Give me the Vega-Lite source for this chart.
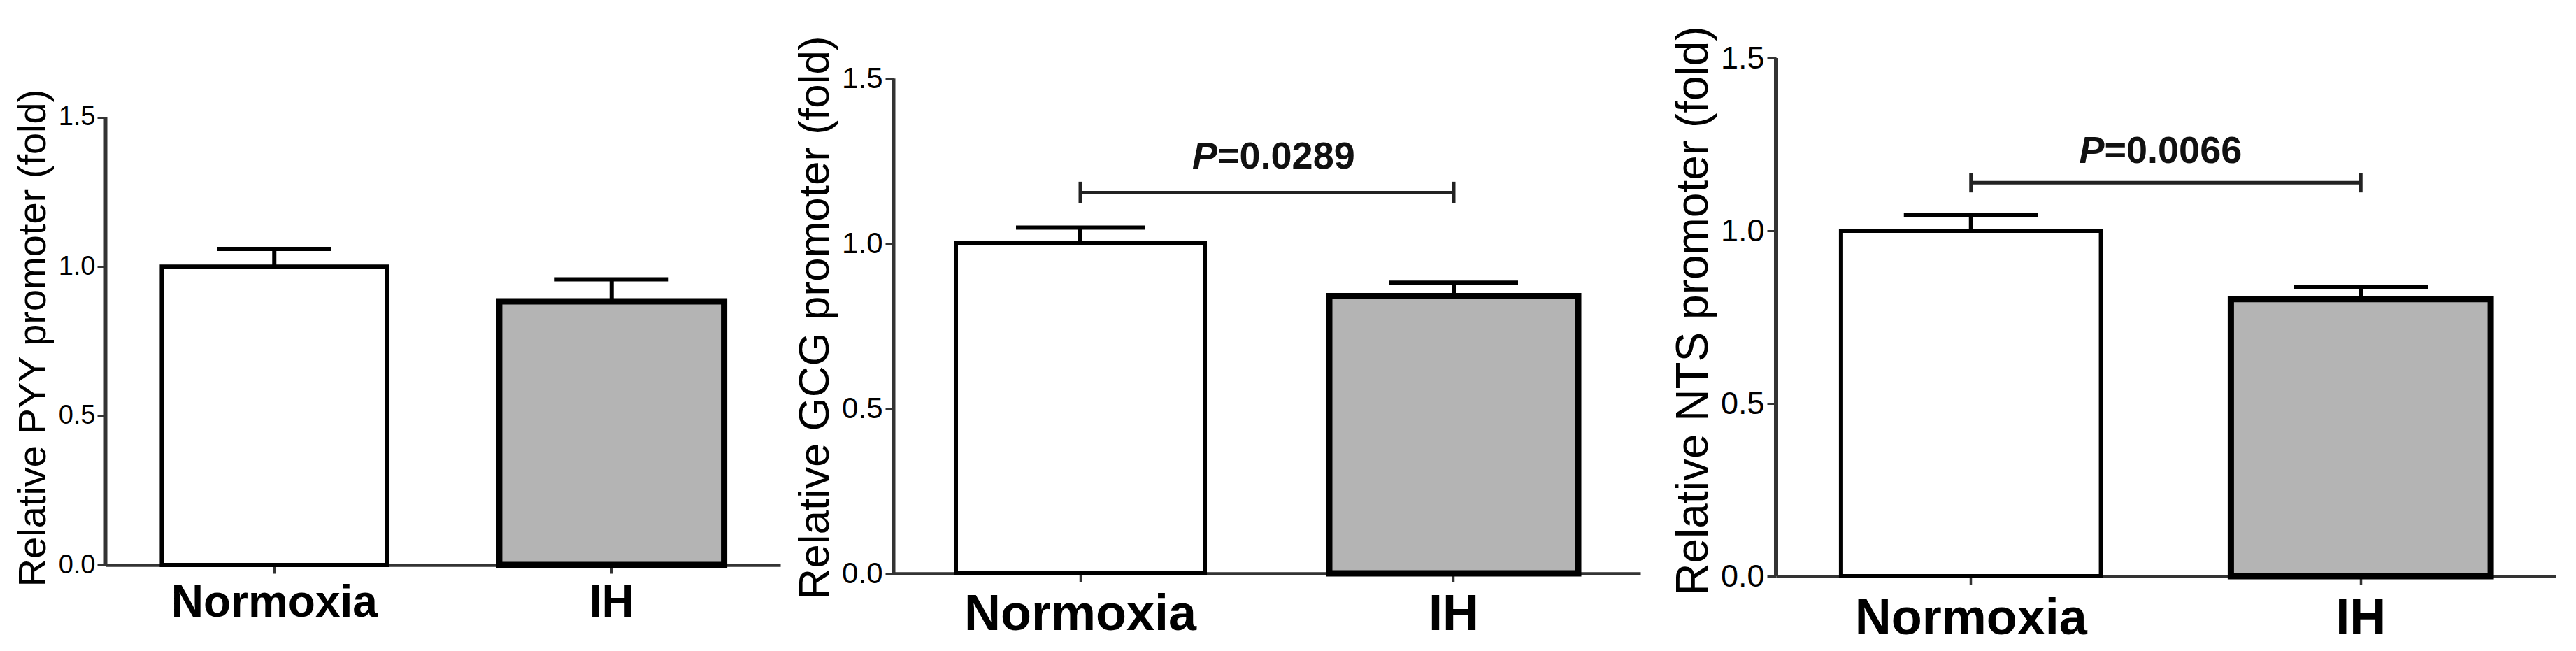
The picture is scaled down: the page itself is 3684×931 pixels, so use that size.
{
  "$schema": "https://vega.github.io/schema/vega-lite/v6.json",
  "background": "white",
  "padding": {"left": 19, "top": 36, "right": 5, "bottom": 5},
  "config": {
    "view": {"stroke": null},
    "font": "Liberation Sans",
    "axis": {"grid": false, "labelFont": "Liberation Sans", "titleFont": "Liberation Sans", "labelColor": "#000000", "titleColor": "#000000", "domainColor": "#333333", "tickColor": "#333333", "labelFlush": false, "labelOverlap": false, "labelLimit": 1000, "titleLimit": 2000}
  },
  "datasets": {
    "bars": [
      {"panel": "PYY", "group": "Normoxia", "mean": 1.0, "upper": 1.059},
      {"panel": "PYY", "group": "IH", "mean": 0.883, "upper": 0.957},
      {"panel": "GCG", "group": "Normoxia", "mean": 1.0, "upper": 1.048},
      {"panel": "GCG", "group": "IH", "mean": 0.84, "upper": 0.881},
      {"panel": "NTS", "group": "Normoxia", "mean": 1.0, "upper": 1.045},
      {"panel": "NTS", "group": "IH", "mean": 0.802, "upper": 0.838}
    ],
    "frame": [
      {"panel": "PYY", "group": "Normoxia", "lo": 0, "hi": 1.5},
      {"panel": "GCG", "group": "Normoxia", "lo": 0, "hi": 1.5},
      {"panel": "NTS", "group": "Normoxia", "lo": 0, "hi": 1.5}
    ],
    "sig": [
      {"panel": "GCG", "left": "Normoxia", "right": "IH", "y": 1.154, "lo": 1.121, "hi": 1.187, "ty": 1.226, "p": "P", "rest": "=0.0289"},
      {"panel": "NTS", "left": "Normoxia", "right": "IH", "y": 1.139, "lo": 1.111, "hi": 1.168, "ty": 1.197, "p": "P", "rest": "=0.0066"}
    ]
  },
  "bounds": "flush",
  "spacing": 162,
  "hconcat": [
    {
      "width": 965,
      "height": 725,
      "layer": [
        {
          "data": {"name": "bars"},
          "transform": [{"filter": "datum.panel === 'PYY' && datum.group === 'Normoxia'"}],
          "mark": {"type": "bar", "fill": "#ffffff", "stroke": "#000000", "strokeWidth": 6},
          "encoding": {
            "x": {"field": "group", "type": "nominal", "scale": {"domain": ["Normoxia", "IH"], "paddingInner": 0.3333, "paddingOuter": 0.16667},
                  "axis": {"title": null, "labelAngle": 0, "labelFontSize": 64, "labelFontWeight": "bold", "labelPadding": 10, "tickSize": 12, "tickWidth": 3.5, "domainWidth": 4.5}},
            "y": {"field": "mean", "type": "quantitative", "scale": {"domain": [0, 1.6984], "nice": false, "zero": true},
                  "axis": {"title": "Relative PYY promoter (fold)", "values": [0, 0.5, 1, 1.5], "format": ".1f", "domain": false, "tickSize": 12, "tickWidth": 3, "labelFontSize": 38, "labelPadding": 3, "minExtent": 68, "maxExtent": 68, "titlePadding": 7, "titleFontSize": 56, "titleFontWeight": "normal", "titleY": 400}}
          }
        },
        {
          "data": {"name": "bars"},
          "transform": [{"filter": "datum.panel === 'PYY' && datum.group === 'IH'"}],
          "mark": {"type": "bar", "fill": "#b4b4b4", "stroke": "#000000", "strokeWidth": 9},
          "encoding": {
            "x": {"field": "group", "type": "nominal"},
            "y": {"field": "mean", "type": "quantitative"}
          }
        },
        {
          "data": {"name": "bars"},
          "transform": [{"filter": "datum.panel === 'PYY'"}],
          "mark": {"type": "rule", "color": "#000000", "strokeWidth": 6},
          "encoding": {
            "x": {"field": "group", "type": "nominal"},
            "y": {"field": "mean", "type": "quantitative"},
            "y2": {"field": "upper"}
          }
        },
        {
          "data": {"name": "bars"},
          "transform": [{"filter": "datum.panel === 'PYY'"}],
          "mark": {"type": "tick", "color": "#000000", "size": 163, "thickness": 6, "orient": "horizontal", "opacity": 1},
          "encoding": {
            "x": {"field": "group", "type": "nominal"},
            "y": {"field": "upper", "type": "quantitative"}
          }
        },
        {
          "data": {"name": "frame"},
          "transform": [{"filter": "datum.panel === 'PYY'"}],
          "mark": {"type": "rule", "color": "#333333", "strokeWidth": 5},
          "encoding": {
            "x": {"field": "group", "type": "nominal", "bandPosition": -0.25},
            "y": {"field": "lo", "type": "quantitative"},
            "y2": {"field": "hi"}
          }
        }
      ]
    },
    {
      "bounds": "flush",
      "spacing": 194,
      "hconcat": [
        {
          "width": 1068,
          "height": 737,
          "layer": [
            {
              "data": {"name": "bars"},
              "transform": [{"filter": "datum.panel === 'GCG' && datum.group === 'Normoxia'"}],
              "mark": {"type": "bar", "fill": "#ffffff", "stroke": "#000000", "strokeWidth": 6},
              "encoding": {
                "x": {"field": "group", "type": "nominal", "scale": {"domain": ["Normoxia", "IH"], "paddingInner": 0.3333, "paddingOuter": 0.16667},
                      "axis": {"title": null, "labelAngle": 0, "labelFontSize": 72, "labelFontWeight": "bold", "labelPadding": 11, "tickSize": 12, "tickWidth": 3.5, "domainWidth": 4.5}},
                "y": {"field": "mean", "type": "quantitative", "scale": {"domain": [0, 1.5618], "nice": false, "zero": true},
                      "axis": {"title": "Relative GCG promoter (fold)", "values": [0, 0.5, 1, 1.5], "format": ".1f", "domain": false, "tickSize": 12, "tickWidth": 3, "labelFontSize": 42, "labelPadding": 4, "minExtent": 74, "maxExtent": 74, "titlePadding": 7, "titleFontSize": 62, "titleFontWeight": "normal", "titleY": 371}}
              }
            },
            {
              "data": {"name": "bars"},
              "transform": [{"filter": "datum.panel === 'GCG' && datum.group === 'IH'"}],
              "mark": {"type": "bar", "fill": "#b4b4b4", "stroke": "#000000", "strokeWidth": 9},
              "encoding": {
                "x": {"field": "group", "type": "nominal"},
                "y": {"field": "mean", "type": "quantitative"}
              }
            },
            {
              "data": {"name": "bars"},
              "transform": [{"filter": "datum.panel === 'GCG'"}],
              "mark": {"type": "rule", "color": "#000000", "strokeWidth": 6},
              "encoding": {
                "x": {"field": "group", "type": "nominal"},
                "y": {"field": "mean", "type": "quantitative"},
                "y2": {"field": "upper"}
              }
            },
            {
              "data": {"name": "bars"},
              "transform": [{"filter": "datum.panel === 'GCG'"}],
              "mark": {"type": "tick", "color": "#000000", "size": 184, "thickness": 6, "orient": "horizontal", "opacity": 1},
              "encoding": {
                "x": {"field": "group", "type": "nominal"},
                "y": {"field": "upper", "type": "quantitative"}
              }
            },
            {
              "data": {"name": "frame"},
              "transform": [{"filter": "datum.panel === 'GCG'"}],
              "mark": {"type": "rule", "color": "#333333", "strokeWidth": 5},
              "encoding": {
                "x": {"field": "group", "type": "nominal", "bandPosition": -0.25},
                "y": {"field": "lo", "type": "quantitative"},
                "y2": {"field": "hi"}
              }
            },
            {
              "data": {"name": "sig"},
              "transform": [{"filter": "datum.panel === 'GCG'"}],
              "mark": {"type": "rule", "color": "#222222", "strokeWidth": 5},
              "encoding": {
                "x": {"field": "left", "type": "nominal"},
                "x2": {"field": "right"},
                "y": {"field": "y", "type": "quantitative"}
              }
            },
            {
              "data": {"name": "sig"},
              "transform": [{"filter": "datum.panel === 'GCG'"}],
              "mark": {"type": "rule", "color": "#222222", "strokeWidth": 5},
              "encoding": {
                "x": {"field": "left", "type": "nominal"},
                "y": {"field": "lo", "type": "quantitative"},
                "y2": {"field": "hi"}
              }
            },
            {
              "data": {"name": "sig"},
              "transform": [{"filter": "datum.panel === 'GCG'"}],
              "mark": {"type": "rule", "color": "#222222", "strokeWidth": 5},
              "encoding": {
                "x": {"field": "right", "type": "nominal"},
                "y": {"field": "lo", "type": "quantitative"},
                "y2": {"field": "hi"}
              }
            },
            {
              "data": {"name": "sig"},
              "transform": [{"filter": "datum.panel === 'GCG'"}],
              "mark": {"type": "text", "font": "Liberation Sans", "fontSize": 54, "fontWeight": "bold", "fontStyle": "italic", "align": "right", "baseline": "alphabetic", "dx": -71, "color": "#111111"},
              "encoding": {
                "x": {"field": "left", "type": "nominal", "bandPosition": 1.25},
                "y": {"field": "ty", "type": "quantitative"},
                "text": {"field": "p"}
              }
            },
            {
              "data": {"name": "sig"},
              "transform": [{"filter": "datum.panel === 'GCG'"}],
              "mark": {"type": "text", "font": "Liberation Sans", "fontSize": 54, "fontWeight": "bold", "align": "left", "baseline": "alphabetic", "dx": -71, "color": "#111111"},
              "encoding": {
                "x": {"field": "left", "type": "nominal", "bandPosition": 1.25},
                "y": {"field": "ty", "type": "quantitative"},
                "text": {"field": "rest"}
              }
            }
          ]
        },
        {
          "width": 1115,
          "height": 741,
          "layer": [
            {
              "data": {"name": "bars"},
              "transform": [{"filter": "datum.panel === 'NTS' && datum.group === 'Normoxia'"}],
              "mark": {"type": "bar", "fill": "#ffffff", "stroke": "#000000", "strokeWidth": 6},
              "encoding": {
                "x": {"field": "group", "type": "nominal", "scale": {"domain": ["Normoxia", "IH"], "paddingInner": 0.3333, "paddingOuter": 0.16667},
                      "axis": {"title": null, "labelAngle": 0, "labelFontSize": 72, "labelFontWeight": "bold", "labelPadding": 13, "tickSize": 12, "tickWidth": 3.5, "domainWidth": 4.5}},
                "y": {"field": "mean", "type": "quantitative", "scale": {"domain": [0, 1.5], "nice": false, "zero": true},
                      "axis": {"title": "Relative NTS promoter (fold)", "values": [0, 0.5, 1, 1.5], "format": ".1f", "domain": false, "tickSize": 13, "tickWidth": 3, "labelFontSize": 45, "labelPadding": 4, "minExtent": 78, "maxExtent": 78, "titlePadding": 8, "titleFontSize": 64, "titleFontWeight": "normal", "titleY": 361}}
              }
            },
            {
              "data": {"name": "bars"},
              "transform": [{"filter": "datum.panel === 'NTS' && datum.group === 'IH'"}],
              "mark": {"type": "bar", "fill": "#b4b4b4", "stroke": "#000000", "strokeWidth": 9},
              "encoding": {
                "x": {"field": "group", "type": "nominal"},
                "y": {"field": "mean", "type": "quantitative"}
              }
            },
            {
              "data": {"name": "bars"},
              "transform": [{"filter": "datum.panel === 'NTS'"}],
              "mark": {"type": "rule", "color": "#000000", "strokeWidth": 6},
              "encoding": {
                "x": {"field": "group", "type": "nominal"},
                "y": {"field": "mean", "type": "quantitative"},
                "y2": {"field": "upper"}
              }
            },
            {
              "data": {"name": "bars"},
              "transform": [{"filter": "datum.panel === 'NTS'"}],
              "mark": {"type": "tick", "color": "#000000", "size": 192, "thickness": 6, "orient": "horizontal", "opacity": 1},
              "encoding": {
                "x": {"field": "group", "type": "nominal"},
                "y": {"field": "upper", "type": "quantitative"}
              }
            },
            {
              "data": {"name": "frame"},
              "transform": [{"filter": "datum.panel === 'NTS'"}],
              "mark": {"type": "rule", "color": "#333333", "strokeWidth": 6},
              "encoding": {
                "x": {"field": "group", "type": "nominal", "bandPosition": -0.25},
                "y": {"field": "lo", "type": "quantitative"},
                "y2": {"field": "hi"}
              }
            },
            {
              "data": {"name": "sig"},
              "transform": [{"filter": "datum.panel === 'NTS'"}],
              "mark": {"type": "rule", "color": "#222222", "strokeWidth": 5},
              "encoding": {
                "x": {"field": "left", "type": "nominal"},
                "x2": {"field": "right"},
                "y": {"field": "y", "type": "quantitative"}
              }
            },
            {
              "data": {"name": "sig"},
              "transform": [{"filter": "datum.panel === 'NTS'"}],
              "mark": {"type": "rule", "color": "#222222", "strokeWidth": 5},
              "encoding": {
                "x": {"field": "left", "type": "nominal"},
                "y": {"field": "lo", "type": "quantitative"},
                "y2": {"field": "hi"}
              }
            },
            {
              "data": {"name": "sig"},
              "transform": [{"filter": "datum.panel === 'NTS'"}],
              "mark": {"type": "rule", "color": "#222222", "strokeWidth": 5},
              "encoding": {
                "x": {"field": "right", "type": "nominal"},
                "y": {"field": "lo", "type": "quantitative"},
                "y2": {"field": "hi"}
              }
            },
            {
              "data": {"name": "sig"},
              "transform": [{"filter": "datum.panel === 'NTS'"}],
              "mark": {"type": "text", "font": "Liberation Sans", "fontSize": 54, "fontWeight": "bold", "fontStyle": "italic", "align": "right", "baseline": "alphabetic", "dx": -88, "color": "#111111"},
              "encoding": {
                "x": {"field": "left", "type": "nominal", "bandPosition": 1.25},
                "y": {"field": "ty", "type": "quantitative"},
                "text": {"field": "p"}
              }
            },
            {
              "data": {"name": "sig"},
              "transform": [{"filter": "datum.panel === 'NTS'"}],
              "mark": {"type": "text", "font": "Liberation Sans", "fontSize": 54, "fontWeight": "bold", "align": "left", "baseline": "alphabetic", "dx": -88, "color": "#111111"},
              "encoding": {
                "x": {"field": "left", "type": "nominal", "bandPosition": 1.25},
                "y": {"field": "ty", "type": "quantitative"},
                "text": {"field": "rest"}
              }
            }
          ]
        }
      ]
    }
  ]
}
